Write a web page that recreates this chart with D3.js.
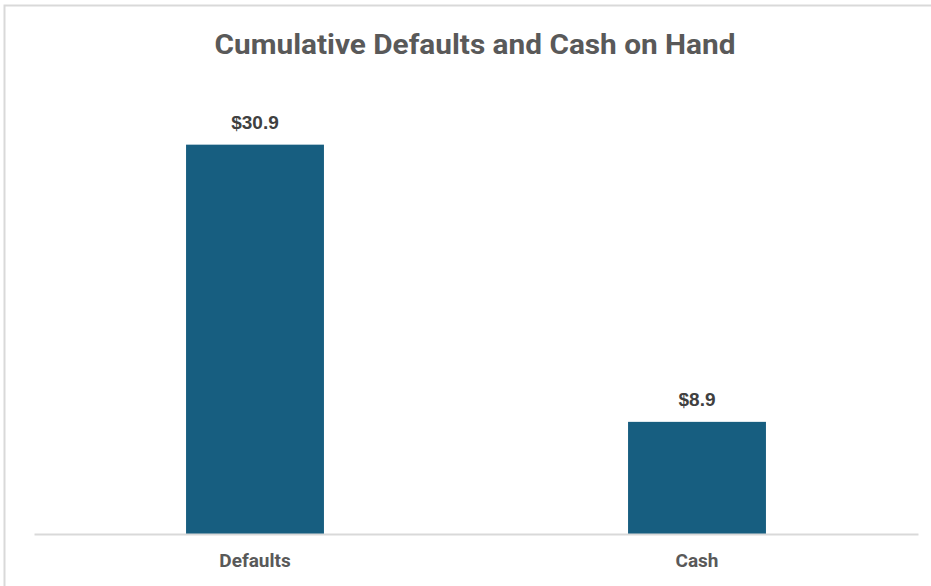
<!DOCTYPE html>
<html>
<head>
<meta charset="utf-8">
<script src="https://cdn.jsdelivr.net/npm/d3@7"></script>
<style>
  body { margin: 0; background: #fff; }
</style>
</head>
<body>
<div id="chart"></div>
<script>
var categories = ["Defaults", "Cash"];
var values = [30.9, 8.9];
var yMax = 35;

function init() {
    var w = 931;
    var h = 586;
    var left = 34, right = 918, top = 93, bottom = 534;

    var svg = d3.select("#chart")
                .append("svg")
                .attr("width", w)
                .attr("height", h);

    // chart frame (cropped on the right and bottom)
    svg.append("rect")
        .attr("x", 4.5)
        .attr("y", 5.5)
        .attr("width", w + 10)
        .attr("height", h + 10)
        .attr("fill", "#fff")
        .attr("stroke", "#d9d9d9")
        .attr("stroke-width", 2);

    svg.append("text")
        .attr("x", 475)
        .attr("y", 54)
        .attr("text-anchor", "middle")
        .attr("font-family", "'Liberation Sans Narrow', 'Roboto', sans-serif")
        .attr("font-weight", "bold")
        .attr("font-size", 28)
        .attr("fill", "#595959")
        .attr("textLength", 521)
        .attr("lengthAdjust", "spacingAndGlyphs")
        .text("Cumulative Defaults and Cash on Hand");

    var x = d3.scaleBand()
              .domain(categories)
              .range([left, right])
              .paddingInner(0.688)
              .paddingOuter(0.344);

    var y = d3.scaleLinear()
              .domain([0, yMax])
              .range([bottom, top]);

    var data = categories.map(function(c, i) { return {cat: c, val: values[i]}; });

    svg.selectAll("rect.bar")
        .data(data)
        .enter()
        .append("rect")
        .attr("class", "bar")
        .attr("x", function(d) { return x(d.cat); })
        .attr("y", function(d) { return y(d.val); })
        .attr("width", x.bandwidth())
        .attr("height", function(d) { return y(0) - y(d.val); })
        .attr("fill", "#175e80");

    // value labels
    svg.selectAll("text.val")
        .data(data)
        .enter()
        .append("text")
        .attr("class", "val")
        .attr("x", function(d) { return x(d.cat) + x.bandwidth() / 2; })
        .attr("y", function(d) { return y(d.val) - 16; })
        .attr("text-anchor", "middle")
        .attr("font-family", "'Liberation Sans', Arial, sans-serif")
        .attr("font-weight", "bold")
        .attr("font-size", 19)
        .attr("fill", "#404040")
        .text(function(d) { return "$" + d3.format(".1f")(d.val); });

    // x axis
    var xAxis = svg.append("g")
        .attr("transform", "translate(0," + bottom + ")")
        .call(d3.axisBottom(x).tickSize(0).tickPadding(20));
    xAxis.select(".domain")
        .attr("stroke", "#d9d9d9")
        .attr("stroke-width", 2);
    xAxis.selectAll("text")
        .attr("font-family", "'Liberation Sans Narrow', 'Roboto', sans-serif")
        .attr("font-weight", "bold")
        .attr("font-size", 19)
        .attr("fill", "#595959");
}
window.onload = init;
</script>
</body>
</html>
